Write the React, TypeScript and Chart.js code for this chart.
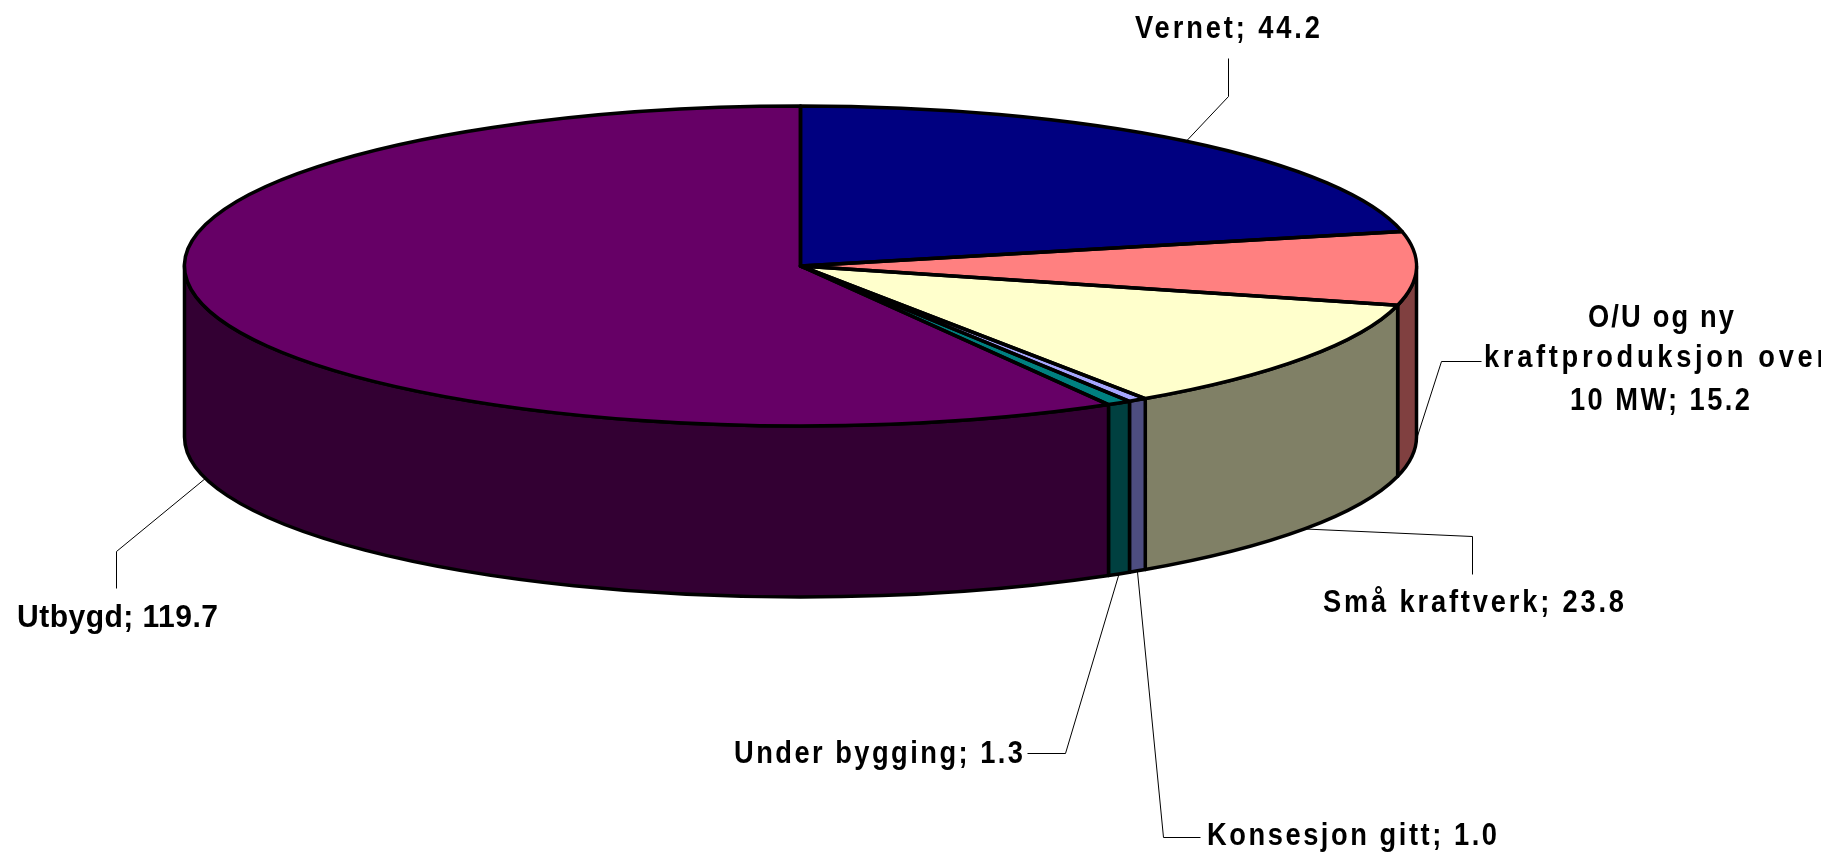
import React, { useEffect, useRef } from "react";
import { Chart, registerables } from "chart.js";

Chart.register(...registerables);

const categories = [
  "Vernet",
  "O/U og ny kraftproduksjon over 10 MW",
  "Små kraftverk",
  "Konsesjon gitt",
  "Under bygging",
  "Utbygd",
];
const values = [44.2, 15.2, 23.8, 1.0, 1.3, 119.7];
const topColors = ["#000080", "#FF8080", "#FFFFCC", "#A6A6FF", "#008080", "#660066"];
const sideColors = ["#000040", "#804040", "#808066", "#4D4D80", "#004040", "#330033"];

// Wrapped text per slice; the last line carries the value.
const labelLines = [
  ["Vernet"],
  ["O/U og ny", "kraftproduksjon over", "10 MW"],
  ["Små kraftverk"],
  ["Konsesjon gitt"],
  ["Under bygging"],
  ["Utbygd"],
];

const W = 1821;
const H = 854;
const STRETCH_X = 616 / 160; // tilt of the pie: horizontal radius over vertical radius
const DEPTH = 171;
const OUTLINE = 3.5;
const FONT = "bold 31px 'Liberation Sans', Arial, sans-serif";

// One entry per slice: left x and baseline and width of each text line, horizontal
// squeeze of the glyphs, and the leader elbow points.
const labelLayout = [
  { left: [1135], base: [38], width: [185], squeeze: 0.88, elbow: [[1228, 96], [1228, 58]], onWall: false },
  { left: [1588, 1484, 1570], base: [327, 367, 410], width: [146, 343, 180], squeeze: 0.88, elbow: [[1441, 361], [1481, 361]], onWall: true },
  { left: [1323], base: [612], width: [301], squeeze: 0.88, elbow: [[1472, 536], [1472, 574]], onWall: true },
  { left: [1207], base: [845], width: [290], squeeze: 0.88, elbow: [[1163, 837], [1200, 837]], onWall: true },
  { left: [734], base: [763], width: [289], squeeze: 0.88, elbow: [[1065, 753], [1027, 753]], onWall: true },
  { left: [17], base: [627], width: [201], squeeze: 0.97, elbow: [[116, 551], [116, 588]], onWall: true },
];

const pie3d = {
  id: "pie3d",
  beforeDatasetsDraw(chart: any) {
    const ctx = chart.ctx;
    const arcs = chart.getDatasetMeta(0).data;
    const { x: cx, y: cy, outerRadius: ry } = arcs[0];
    const rx = ry * STRETCH_X;
    ctx.save();
    ctx.lineWidth = OUTLINE;
    ctx.lineJoin = "round";
    ctx.strokeStyle = "#000";
    arcs.forEach((arc: any, i: number) => {
      const TWO_PI = Math.PI * 2;
      for (const shift of [0, TWO_PI]) {
        const a = Math.max(arc.startAngle + shift, 0);
        const b = Math.min(arc.endAngle + shift, Math.PI);
        if (b <= a) continue;
        ctx.beginPath();
        ctx.ellipse(cx, cy, rx, ry, 0, a, b);
        ctx.ellipse(cx, cy + DEPTH, rx, ry, 0, b, a, true);
        ctx.closePath();
        ctx.fillStyle = sideColors[i];
        ctx.fill();
        ctx.stroke();
      }
    });
    ctx.restore();
    ctx.save();
    ctx.translate(cx, cy);
    ctx.scale(STRETCH_X, 1);
    ctx.translate(-cx, -cy);
  },
  afterDatasetsDraw(chart: any) {
    const ctx = chart.ctx;
    ctx.restore();
    const arcs = chart.getDatasetMeta(0).data;
    const { x: cx, y: cy, outerRadius: ry } = arcs[0];
    const rx = ry * STRETCH_X;

    ctx.save();
    ctx.lineWidth = OUTLINE;
    ctx.lineJoin = "round";
    ctx.strokeStyle = "#000";
    arcs.forEach((arc: any) => {
      ctx.beginPath();
      ctx.moveTo(cx, cy);
      ctx.ellipse(cx, cy, rx, ry, 0, arc.startAngle, arc.endAngle);
      ctx.closePath();
      ctx.stroke();
    });

    ctx.fillStyle = "#000";
    ctx.font = FONT;
    ctx.textBaseline = "alphabetic";
    ctx.textAlign = "left";
    arcs.forEach((arc: any, i: number) => {
      const layout = labelLayout[i];
      const mid = (arc.startAngle + arc.endAngle) / 2;
      const ax = cx + rx * Math.cos(mid);
      const ay = cy + ry * Math.sin(mid) + (layout.onWall ? DEPTH : 0);
      ctx.beginPath();
      ctx.lineWidth = 1;
      ctx.moveTo(ax, ay);
      layout.elbow.forEach(([px, py]) => ctx.lineTo(px + 0.5, py + 0.5));
      ctx.stroke();

      const lines = labelLines[i].slice();
      lines[lines.length - 1] += "; " + values[i].toFixed(1);
      lines.forEach((line, j) => {
        ctx.save();
        ctx.translate(layout.left[j], layout.base[j]);
        ctx.scale(layout.squeeze, 1);
        ctx.letterSpacing = "0px";
        const natural = ctx.measureText(line).width;
        const spacing = (layout.width[j] / layout.squeeze - natural) / Math.max(line.length - 1, 1);
        ctx.letterSpacing = spacing + "px";
        ctx.fillText(line, 0, 0);
        ctx.restore();
      });
    });
    ctx.restore();
  },
};

export default function App() {
  const ref = useRef<HTMLCanvasElement>(null);
  useEffect(() => {
    const chart = new Chart(ref.current as HTMLCanvasElement, {
      type: "pie",
      data: {
        labels: categories,
        datasets: [
          { data: values, backgroundColor: topColors, borderWidth: 0, clip: false } as any,
        ],
      },
      options: {
        animation: false,
        responsive: false,
        layout: { padding: { left: 100, right: 320, top: 106, bottom: 428 } },
        plugins: { legend: { display: false }, tooltip: { enabled: false } },
      },
      plugins: [pie3d],
    } as any);
    return () => chart.destroy();
  }, []);
  return (
    <div style={{ position: "absolute", left: 0, top: 0, width: W, height: H, background: "#fff", overflow: "hidden" }}>
      <canvas ref={ref} width={W} height={H} style={{ display: "block" }} />
    </div>
  );
}
